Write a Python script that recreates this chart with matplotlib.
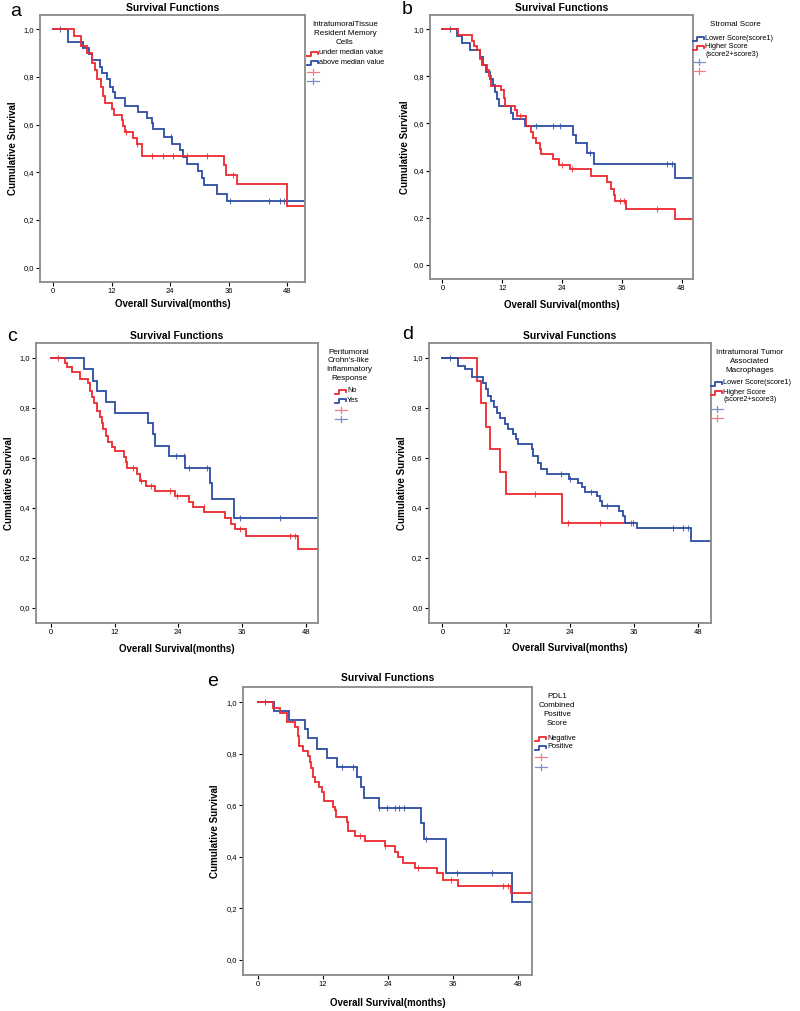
import matplotlib
matplotlib.use("Agg")
import matplotlib.pyplot as plt
from matplotlib.lines import Line2D

plt.rcParams['font.family'] = ['Liberation Sans', 'DejaVu Sans']

W, H = 800, 1011
RED = '#ee2a2f'
BLUE = '#2c4da3'
RED_L = '#f27d80'
BLUE_L = '#7b8fcc'

# ---- data (months, cumulative survival after each drop) ----
# a: Intratumoral tissue resident memory cells
a_red_t = [4.2, 5.8, 7.0, 7.9, 8.5, 8.9, 9.7, 10.3, 10.6, 12.1, 12.4, 14.0, 14.4, 14.7, 16.3, 17.1, 18.3, 35.0, 35.4, 37.7, 47.9]
a_red_s = [0.972, 0.93, 0.90, 0.86, 0.83, 0.79, 0.76, 0.72, 0.69, 0.665, 0.64, 0.62, 0.595, 0.57, 0.545, 0.52, 0.47, 0.43, 0.39, 0.35, 0.26]
a_red_c = [15.0, 17.1, 20.2, 22.6, 24.5, 27.4, 31.5, 36.9]
a_blue_t = [3.1, 6.2, 7.4, 7.9, 9.6, 10.1, 11.1, 11.6, 12.3, 12.6, 14.7, 17.4, 19.3, 20.2, 20.4, 22.7, 24.3, 26.0, 26.5, 27.5, 29.7, 30.4, 30.9, 33.6, 35.6]
a_blue_s = [0.945, 0.92, 0.895, 0.87, 0.84, 0.815, 0.79, 0.76, 0.735, 0.71, 0.68, 0.655, 0.63, 0.605, 0.58, 0.55, 0.52, 0.495, 0.465, 0.435, 0.405, 0.375, 0.345, 0.31, 0.28]
a_blue_c = [1.4, 24.1, 36.2, 44.3, 46.4, 47.2]

# b: stromal score
b_blue_t = [2.9, 3.9, 5.6, 7.6, 8.2, 8.8, 9.6, 10.1, 10.6, 10.9, 11.3, 13.8, 14.1, 16.6, 26.2, 26.9, 29.0, 30.4, 46.6]
b_blue_s = [0.97, 0.94, 0.91, 0.88, 0.85, 0.82, 0.79, 0.765, 0.735, 0.705, 0.675, 0.645, 0.62, 0.59, 0.55, 0.515, 0.475, 0.43, 0.37]
b_blue_c = [1.5, 18.8, 22.2, 23.5, 29.7, 45.1, 46.1]
b_red_t = [3.2, 5.9, 6.4, 7.0, 7.6, 7.9, 9.0, 9.3, 9.7, 11.8, 12.3, 12.6, 14.6, 14.9, 16.8, 17.8, 18.2, 18.8, 19.5, 19.8, 22.2, 23.3, 25.7, 29.8, 33.0, 33.9, 34.4, 34.7, 36.9, 46.6]
b_red_s = [0.975, 0.95, 0.93, 0.91, 0.875, 0.85, 0.825, 0.80, 0.76, 0.74, 0.71, 0.675, 0.655, 0.63, 0.59, 0.565, 0.54, 0.515, 0.49, 0.47, 0.45, 0.425, 0.405, 0.375, 0.35, 0.32, 0.295, 0.27, 0.235, 0.195]
b_red_c = [15.6, 24.0, 26.0, 35.6, 36.5, 43.1]

# c: peritumoral Crohn's-like inflammatory response
c_red_t = [2.7, 3.0, 3.9, 5.5, 6.9, 7.4, 7.8, 8.2, 8.6, 9.3, 9.6, 9.9, 10.4, 10.8, 11.5, 12.1, 13.7, 14.2, 14.4, 16.3, 16.7, 18.0, 19.6, 23.4, 26.0, 26.8, 28.9, 32.8, 34.0, 34.6, 36.7, 46.6]
c_red_s = [0.98, 0.965, 0.945, 0.915, 0.90, 0.87, 0.845, 0.82, 0.79, 0.765, 0.74, 0.715, 0.69, 0.665, 0.645, 0.63, 0.605, 0.585, 0.56, 0.535, 0.51, 0.49, 0.47, 0.45, 0.425, 0.405, 0.385, 0.36, 0.335, 0.315, 0.29, 0.235]
c_red_c = [1.4, 15.5, 17.0, 18.9, 22.4, 23.7, 28.8, 35.6, 45.0, 45.9]
c_blue_t = [6.3, 8.0, 8.6, 10.4, 12.1, 18.2, 19.2, 19.7, 22.2, 25.3, 29.9, 30.4, 34.5]
c_blue_s = [0.955, 0.91, 0.87, 0.825, 0.78, 0.74, 0.695, 0.65, 0.61, 0.56, 0.50, 0.435, 0.36]
c_blue_c = [23.5, 25.1, 26.1, 29.4, 35.6, 43.1]

# d: intratumoral tumor associated macrophages
d_blue_t = [2.9, 4.2, 5.5, 7.7, 8.2, 8.6, 9.2, 9.7, 10.2, 10.8, 11.7, 12.4, 13.3, 13.9, 14.2, 16.8, 17.1, 17.9, 18.6, 19.6, 23.7, 25.5, 26.2, 26.8, 29.0, 29.6, 29.9, 33.1, 33.9, 34.3, 36.6, 46.7]
d_blue_s = [0.97, 0.955, 0.925, 0.90, 0.875, 0.85, 0.83, 0.805, 0.78, 0.76, 0.735, 0.715, 0.695, 0.675, 0.655, 0.635, 0.61, 0.58, 0.555, 0.535, 0.515, 0.50, 0.485, 0.465, 0.45, 0.43, 0.41, 0.39, 0.37, 0.34, 0.32, 0.27]
d_blue_c = [1.5, 22.2, 23.9, 27.9, 30.9, 35.8, 43.3, 45.2, 46.1]
d_red_t = [6.5, 7.2, 8.1, 8.9, 10.8, 12.0, 22.4]
d_red_s = [0.91, 0.82, 0.725, 0.635, 0.545, 0.455, 0.34]
d_red_c = [17.4, 23.5, 29.6, 35.3]
d_red_end = 35.6

# e: PDL1 combined positive score
e_red_t = [2.8, 4.2, 5.5, 6.9, 7.4, 7.7, 8.3, 9.2, 9.7, 9.9, 10.2, 10.6, 11.3, 11.9, 12.3, 13.9, 14.2, 14.5, 16.4, 16.7, 18.0, 19.8, 23.5, 25.3, 25.9, 26.9, 29.0, 33.0, 34.1, 37.0, 46.8]
e_red_s = [0.98, 0.96, 0.925, 0.905, 0.87, 0.83, 0.81, 0.79, 0.77, 0.745, 0.71, 0.69, 0.67, 0.65, 0.615, 0.595, 0.58, 0.555, 0.535, 0.50, 0.48, 0.46, 0.44, 0.42, 0.40, 0.375, 0.355, 0.335, 0.31, 0.285, 0.26]
e_red_c = [18.9, 23.5, 29.6, 35.7, 45.2, 46.2]
e_blue_t = [3.1, 5.7, 8.8, 9.2, 10.9, 12.8, 14.6, 18.3, 19.0, 19.6, 22.3, 30.2, 30.7, 34.7, 34.8, 46.9]
e_blue_s = [0.965, 0.93, 0.895, 0.86, 0.82, 0.785, 0.75, 0.71, 0.67, 0.63, 0.59, 0.53, 0.47, 0.405, 0.335, 0.225]
e_blue_c = [1.4, 15.5, 17.5, 22.4, 23.9, 25.4, 26.0, 27.0, 31.0, 36.7, 43.3]

x_ticks = [0, 12, 24, 36, 48]
y_ticks = [0.0, 0.2, 0.4, 0.6, 0.8, 1.0]
y_tick_labels = ['0,0', '0,2', '0,4', '0,6', '0,8', '1,0']

fig = plt.figure(figsize=(W / 100, H / 100), dpi=100)


def fx(x):
    return x / W


def fy(y):
    return 1 - y / H


def surv_at(times, surv, t):
    val = 1.0
    for ti, si in zip(times, surv):
        if ti <= t:
            val = si
    return val


def km(ax, times, surv, cens, color, end):
    xs = [0] + times + [end]
    ys = [1.0] + surv + [surv[-1]]
    ax.step(xs, ys, where='post', color=color, lw=1.3, solid_joinstyle='miter')
    cy = [surv_at(times, surv, c) for c in cens]
    ax.plot(cens, cy, ls='none', marker='|', ms=4.5, mew=0.8, color=color, alpha=0.8)


def make_axes(box, xlim, letter, letter_xy, title_y, ylab_x, xlab_y):
    l, t, r, b = box
    ax = fig.add_axes([fx(l), fy(b), (r - l) / W, (b - t) / H])
    ax.set_xlim(*xlim)
    ax.set_ylim(-0.06, 1.06)
    for sp in ax.spines.values():
        sp.set_color('#8a8a8a')
        sp.set_linewidth(1.3)
    ax.set_xticks(x_ticks)
    ax.set_yticks(y_ticks)
    ax.set_yticklabels(y_tick_labels)
    ax.tick_params(direction='out', length=3, width=0.8, labelsize=5.5, pad=1.5, colors='black')
    fig.text(fx((l + r) / 2), fy(title_y), 'Survival Functions', ha='center', va='center',
             fontsize=7.5, fontweight='bold')
    fig.text(fx(letter_xy[0]), fy(letter_xy[1]), letter, ha='left', va='center', fontsize=14)
    fig.text(fx(ylab_x), fy((t + b) / 2), 'Cumulative Survival', rotation=90, ha='center', va='center',
             fontsize=7, fontweight='bold')
    fig.text(fx((l + r) / 2), fy(xlab_y), 'Overall Survival(months)', ha='center', va='center',
             fontsize=7, fontweight='bold')
    return ax


def legend(title_lines, title_cx, title_y0, entries, sym_x, entry_ys, mark_ys):
    for i, line in enumerate(title_lines):
        fig.text(fx(title_cx), fy(title_y0 + i * 8.7), line, ha='center', va='center', fontsize=5.8)
    for (label, color), ey in zip(entries, entry_ys):
        xs = [sym_x, sym_x + 4, sym_x + 4, sym_x + 11, sym_x + 11]
        ys = [ey + 2, ey + 2, ey - 2.5, ey - 2.5, ey]
        fig.add_artist(Line2D([fx(v) for v in xs], [fy(v) for v in ys], color=color, lw=1.3,
                              transform=fig.transFigure))
        lines = label.split('\n')
        for j, ln in enumerate(lines):
            fig.text(fx(sym_x + 12), fy(ey - 1 + j * 7.5), ln, ha='left', va='center', fontsize=5.3)
    for (label, color), my in zip(entries, mark_ys):
        light = RED_L if color == RED else BLUE_L
        fig.add_artist(Line2D([fx(sym_x), fx(sym_x + 12)], [fy(my), fy(my)], color=light, lw=0.9,
                              transform=fig.transFigure))
        fig.add_artist(Line2D([fx(sym_x + 6), fx(sym_x + 6)], [fy(my - 3), fy(my + 3)], color=light, lw=0.9,
                              transform=fig.transFigure))


# ---- panel a ----
xa = (-2.7, 51.6)
ax = make_axes((40, 15, 305, 282), xa, 'a', (10, 12), 8, 13, 304)
km(ax, a_blue_t, a_blue_s, a_blue_c, BLUE, xa[1])
km(ax, a_red_t, a_red_s, a_red_c, RED, xa[1])
legend(['IntratumoralTissue', 'Resident Memory', 'Cells'], 345, 25,
       [('under median value', RED), ('above median value', BLUE)], 307, [54, 63], [72, 81])

# ---- panel b ----
xb = (-2.5, 50.3)
ax = make_axes((430, 15, 693, 279), xb, 'b', (402, 10), 8, 405, 305)
km(ax, b_blue_t, b_blue_s, b_blue_c, BLUE, xb[1])
km(ax, b_red_t, b_red_s, b_red_c, RED, xb[1])
legend(['Stromal Score'], 735, 25,
       [('Lower Score(score1)', BLUE), ('Higher Score\n(score2+score3)', RED)], 693, [39, 48], [62, 71])

# ---- panel c ----
xc = (-2.8, 50.3)
ax = make_axes((36, 343, 318, 623), xc, 'c', (7, 337), 336, 9, 649)
km(ax, c_blue_t, c_blue_s, c_blue_c, BLUE, xc[1])
km(ax, c_red_t, c_red_s, c_red_c, RED, xc[1])
legend(['Peritumoral', "Crohn's-like", 'Inflammatory', 'Response'], 349, 352,
       [('No', RED), ('Yes', BLUE)], 335, [392, 401], [410, 419])

# ---- panel d ----
xd = (-2.5, 50.4)
ax = make_axes((429, 343, 711, 623), xd, 'd', (402, 335), 336, 402, 648)
km(ax, d_red_t, d_red_s, d_red_c, RED, d_red_end)
km(ax, d_blue_t, d_blue_s, d_blue_c, BLUE, xd[1])
legend(['Intratumoral Tumor', 'Associated', 'Macrophages'], 750, 353,
       [('Lower Score(score1)', BLUE), ('Higher Score\n(score2+score3)', RED)], 711, [384, 393], [409, 418])

# ---- panel e ----
xe = (-2.7, 50.6)
ax = make_axes((243, 687, 532, 975), xe, 'e', (207, 681), 678, 215, 1003)
km(ax, e_blue_t, e_blue_s, e_blue_c, BLUE, xe[1])
km(ax, e_red_t, e_red_s, e_red_c, RED, xe[1])
legend(['PDL1', 'Combined', 'Positive', 'Score'], 557, 697,
       [('Negative', RED), ('Positive', BLUE)], 535, [739, 748], [757, 767])

fig.savefig('out.png', dpi=100)
